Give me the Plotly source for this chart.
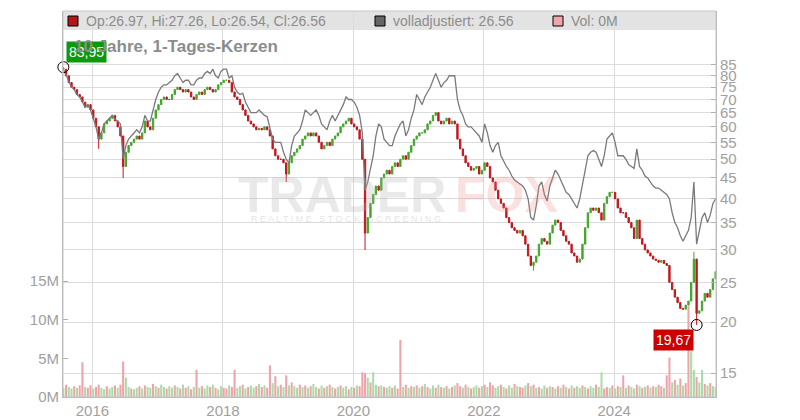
import numpy as np
import pandas as pd
import plotly.graph_objects as go

# ---------------- data ----------------
first_open = 83.5
closes = [
    83, 80, 77, 75, 74, 72, 71, 69, 67, 68,
    66, 63, 60, 56, 58, 61, 62, 63, 64, 62,
    60, 57, 48, 52, 54, 55, 56, 57, 56, 58,
    62, 60, 59, 63, 66, 68, 70, 71, 70, 70,
    72, 74, 75, 74, 73, 74, 73, 71, 70, 72,
    73, 72, 74, 75, 74, 73, 74, 76, 77, 78,
    78, 77, 73, 71, 70, 68, 66, 64, 62, 61,
    60, 59, 59.5, 59, 60, 59, 57, 53, 51, 50,
    50, 49, 46, 49, 51, 52, 53, 54, 56, 57,
    58, 57, 58, 57, 55, 53, 54, 55, 54, 56,
    57, 58, 60, 61, 62, 63, 61, 60, 59, 56,
    50, 33, 36, 39, 41, 43, 42, 45, 46, 47,
    46, 48, 49, 48, 50, 51, 50, 52, 54, 56,
    57, 58, 58, 59, 61, 62, 64, 65, 62, 61,
    62, 63, 61, 62, 61, 56, 53, 51, 49, 48,
    47, 47.5, 48, 46, 47, 49, 48, 45, 44, 42,
    40, 39, 38, 36, 35, 34, 33.5, 33, 33.5, 32.5,
    31, 29, 27.5, 28, 29, 31, 32, 31.5, 31, 33,
    34.5, 35.5, 35, 33.5, 32.5, 31.5, 31, 29.5, 29, 28,
    28.5, 31, 34, 37, 38, 37.5, 38, 37, 35.5, 39,
    40.5, 41.5, 41.5, 40, 38, 37, 37, 36, 35, 34,
    32, 35.5, 32, 31, 30, 29.5, 29, 28.5, 28.3, 28,
    28.3, 27.8, 27.5, 25, 24, 23, 22.3, 21.6, 21.5, 22,
    22.5, 25, 28.5, 21, 21.3, 22.5, 23.5, 23, 24, 25.5,
    26.56,
]

adjusted = [
    83, 80, 77, 75, 74, 72, 71, 69, 67, 68,
    66, 63, 60, 56, 58, 61, 62, 63, 64, 62.5,
    62, 61, 50, 54, 56, 57, 58, 59, 58, 60,
    64, 62, 62, 66, 70, 73, 75, 76, 76, 77,
    78, 80, 81, 79, 77, 78, 78, 76, 76, 78,
    79, 79, 81, 82, 81, 83, 80, 79, 82, 83,
    83, 79, 80, 75, 73, 72, 72.5, 69, 67, 65,
    65, 65, 66, 65, 64, 63.5, 60, 56, 55, 55,
    55, 52, 50, 49, 54, 57, 58, 59, 62, 66,
    65, 64, 65, 66, 64, 61, 60, 59, 62, 64,
    62, 64, 66, 68, 71, 70, 70, 69, 67, 64,
    58, 42, 44, 47, 51, 57, 61, 60, 56, 55,
    54, 54, 57, 59, 61, 62, 57, 59, 63, 66,
    72, 70, 68, 71, 73, 75, 78, 81, 78, 75,
    77, 78, 80, 80, 80, 70, 66, 64, 61, 60,
    60, 59, 58, 57, 55, 61, 58, 54, 52, 54,
    55, 51, 49.5, 48, 47, 45.5, 44.5, 44, 43.5, 43,
    42, 40, 36, 35.5, 38.5, 43, 44, 41, 39.5, 43,
    45, 47, 46, 44.5, 43, 41.5, 41, 40, 39, 38,
    40, 43, 47, 51, 52, 52.5, 52, 50, 48, 51,
    56, 57, 58, 55, 51, 51, 51, 50, 48.5, 48,
    47.5, 53, 48, 47, 45.5, 45, 44, 43, 42.5, 42.5,
    42, 41.5, 41, 40, 37, 35, 34, 32.5, 31.5, 32.5,
    33.5, 36, 44, 31, 33.5, 36, 37, 35, 36.5, 39,
    40,
]

volume_m = [
    1.2, 1.6, 1.3, 1.1, 1.4, 1.2, 1.5, 4.5, 1.3, 1.2,
    1.5, 1.1, 1.3, 1.6, 1.2, 1.0, 1.4, 1.1, 1.3, 1.5,
    1.2, 1.6, 4.6, 2.5, 1.3, 1.1, 1.0, 1.2, 1.4, 1.1,
    1.5, 1.3, 1.2, 1.7, 1.4, 1.2, 1.6, 1.3, 1.1, 1.4,
    1.2, 1.5, 1.3, 1.1, 1.6, 1.2, 1.4, 1.0, 1.3, 3.5,
    1.2, 1.4, 1.1, 1.5, 1.3, 1.6, 1.2, 1.0, 1.4, 1.2,
    1.1, 1.5, 1.3, 3.5, 1.2, 1.4, 1.6, 1.1, 1.3, 1.5,
    1.2, 1.4, 1.7, 1.3, 1.5, 1.2, 4.1, 1.8, 2.7, 1.4,
    1.6, 1.3, 2.8, 1.5, 1.9, 1.4, 1.2, 1.6, 1.3, 1.5,
    1.2, 1.4, 1.7, 1.3, 1.1, 1.5, 1.2, 1.4, 1.6, 1.3,
    1.1, 1.3, 1.5, 1.2, 1.4, 1.0, 1.3, 1.2, 1.5, 1.4,
    3.2, 3.1, 2.5, 1.9, 3.2, 1.6, 1.4, 1.5, 1.3, 1.2,
    1.4, 1.2, 1.5, 1.1, 7.4, 1.3, 1.6, 1.2, 1.4, 1.3,
    1.5, 1.2, 1.4, 1.7, 1.3, 1.1, 1.5, 1.2, 1.6, 1.3,
    1.2, 1.4, 1.1, 1.3, 1.5, 1.8, 1.4, 1.2, 1.6, 1.3,
    1.1, 1.3, 1.5, 1.2, 1.4, 1.6, 1.3, 1.9, 1.5, 1.2,
    1.4, 1.6, 1.3, 1.1, 1.5, 1.2, 1.7, 1.4, 1.3, 1.2,
    1.5, 1.8, 1.4, 1.6, 1.2, 1.3, 1.1, 1.5, 1.2, 1.4,
    1.3, 1.1, 1.4, 1.2, 1.6, 1.3, 1.1, 1.5, 1.2, 1.4,
    1.2, 1.5, 1.3, 1.1, 1.4, 1.2, 1.6, 1.3, 3.2, 1.1,
    1.3, 1.2, 1.5, 1.1, 1.4, 1.3, 2.8, 1.2, 1.5, 1.3,
    1.1, 1.6, 1.4, 1.2, 1.3, 1.5, 1.2, 1.4, 1.3, 1.6,
    1.4, 1.2, 2.8, 5.1, 1.9, 2.2, 1.6, 2.4, 1.5, 1.8,
    11.8, 5.9, 3.5, 2.6, 1.9, 3.5, 1.7, 1.5, 1.8, 1.4,
    1.3,
]

# volume bar direction: g = up day (green), r = down day (pink)
volume_dir = (
    "grggrgrrgr" "rgrrggrggr" "grrggrggrg" "rggrgrggrg" "grgrgrgrgr"
    "grggrgrggr" "rgrrggrgrg" "grgrgrrgrg" "rgrgrggrgr" "grggrgrgrg"
    "rgrggrgrgr" "rrgrggrgrg" "grgrrgrgrg" "rgrgrggrgr" "grgrgrrgrg"
    "rggrgrgrrg" "grgrggrgrr" "grgrgrggrg" "rgrgrgrgrg" "grgrggrggr"
    "rgrgrgrgrg" "grgrgrgrgr" "rgrrgrgrgr" "rggrggrgrg" "g"
)

# notable wick extremes (date, high, low)
wick_dates = ["2015-07-22", "2016-02-11", "2016-06-27", "2018-12-24",
              "2020-03-12", "2022-10-12", "2025-03-20", "2025-04-08"]
wick_highs = [83.95, None, None, None, None, None, 29.7, None]
wick_lows = [None, 53, 45, 44, 30, 26.7, None, 19.67]

price_ticks = [15, 20, 25, 30, 35, 40, 45, 50, 55, 60, 65, 70, 75, 80, 85]
vol_ticks_m = [0, 5, 10, 15]

legend_texts = ["Op:26.97, Hi:27.26, Lo:26.54, Cl:26.56", "volladjustiert: 26.56", "Vol: 0M"]
title_text = "10 Jahre, 1-Tages-Kerzen"

# ---------------- build ----------------
n = len(closes)
dates = pd.date_range("2015-07-22", "2025-07-22", periods=n)
opens = [first_open] + closes[:-1]
highs = [max(o, c) for o, c in zip(opens, closes)]
lows = [min(o, c) for o, c in zip(opens, closes)]
for d, h, l in zip(wick_dates, wick_highs, wick_lows):
    i = int(np.argmin(np.abs((dates - pd.Timestamp(d)).total_seconds())))
    if h is not None:
        highs[i] = max(highs[i], h)
    if l is not None:
        lows[i] = min(lows[i], l)

GREEN = "#45a52c"
RED = "#c3161c"
VGREEN = "#a9dca6"
VPINK = "#f1a2aa"
vol_colors = [VGREEN if ch == "g" else VPINK for ch in volume_dir]

fig = go.Figure()

fig.add_trace(go.Bar(
    x=dates, y=[v * 1e6 for v in volume_m], marker_color=vol_colors,
    marker_line_width=0, width=1.0e9, yaxis="y", hoverinfo="skip", showlegend=False,
))

fig.add_trace(go.Scatter(
    x=dates, y=adjusted, mode="lines", line=dict(color="#7a7a7a", width=1.3),
    yaxis="y2", hoverinfo="skip", showlegend=False,
))

fig.add_trace(go.Candlestick(
    x=dates, open=opens, high=highs, low=lows, close=closes, yaxis="y2",
    increasing=dict(line=dict(color=GREEN, width=1), fillcolor=GREEN),
    decreasing=dict(line=dict(color=RED, width=1), fillcolor=RED),
    whiskerwidth=0, hoverinfo="skip", showlegend=False,
))

imax = int(np.argmax(highs))
imin = int(np.argmin(lows))
fig.add_trace(go.Scatter(
    x=[dates[imax], dates[imin]], y=[highs[imax], lows[imin]], mode="markers",
    marker=dict(symbol="circle-open", size=11, color="black", line=dict(width=1)),
    yaxis="y2", hoverinfo="skip", showlegend=False, cliponaxis=False,
))

def de(v):
    return f"{v:.2f}".replace(".", ",")

FONT = "Liberation Sans, Arial, sans-serif"
annotations = [
    dict(x=dates[imax], y=np.log10(highs[imax]), xref="x", yref="y2", text=de(highs[imax]),
         showarrow=False, xanchor="left", yanchor="bottom", xshift=3, yshift=4,
         bgcolor="#0a9a0a", font=dict(color="white", size=14, family=FONT), borderpad=2),
    dict(x=dates[imin], y=np.log10(lows[imin]), xref="x", yref="y2", text=de(lows[imin]),
         showarrow=False, xanchor="right", yanchor="top", xshift=-3, yshift=-4,
         bgcolor="#cc0000", font=dict(color="white", size=14, family=FONT), borderpad=2),
    dict(x=0.0138, y=0.907, xref="paper", yref="paper", text=f"<b>{title_text}</b>",
         showarrow=False, xanchor="left", yanchor="middle",
         font=dict(color="#8c8c8c", size=17, family=FONT)),
    # watermark
    dict(x=0.265, y=0.523, xref="paper", yref="paper", text="<b>TRADER</b>", showarrow=False,
         xanchor="left", yanchor="middle", font=dict(color="rgba(175,175,175,0.28)", size=50, family=FONT)),
    dict(x=0.597, y=0.523, xref="paper", yref="paper", text="<b>FOX</b>", showarrow=False,
         xanchor="left", yanchor="middle", font=dict(color="rgba(240,130,130,0.25)", size=50, family=FONT)),
    dict(x=0.285, y=0.462, xref="paper", yref="paper", text="R E A L T I M E   S T O C K   S C R E E N I N G",
         showarrow=False, xanchor="left", yanchor="middle",
         font=dict(color="rgba(175,175,175,0.35)", size=9, family=FONT)),
]

PH = 386.0
PW = 653.0
def py(pix):
    return 1 - (pix - 11) / PH
def px(pix):
    return (pix - 63) / PW

shapes = [
    dict(type="rect", xref="paper", yref="paper", x0=0, x1=1, y0=py(30), y1=1,
         fillcolor="#e3e3e3", line=dict(width=0), layer="below"),
    dict(type="rect", xref="paper", yref="paper", x0=0, x1=1, y0=0, y1=1,
         fillcolor="rgba(0,0,0,0)", line=dict(color="#c8c8c8", width=1), layer="above"),
]
sq = [(68, "#b4141b"), (375, "#666666"), (553, "#f1a6ae")]
txt_x = [84, 391, 569]
for (sx, col), tx, t in zip(sq, txt_x, legend_texts):
    shapes.append(dict(type="rect", xref="paper", yref="paper", x0=px(sx), x1=px(sx + 10),
                       y0=py(26), y1=py(16), fillcolor=col, line=dict(color="black", width=1),
                       layer="above"))
    annotations.append(dict(x=px(tx), y=py(21), xref="paper", yref="paper", text=t,
                            showarrow=False, xanchor="left", yanchor="middle",
                            font=dict(color="#8c8c8c", size=14, family=FONT)))

# the page body adds an 8px offset, so the figure is 792x412 with margins reduced by 8
fig.update_layout(
    width=792, height=412,
    margin=dict(l=55, r=84, t=3, b=23, autoexpand=False),
    paper_bgcolor="white", plot_bgcolor="white",
    showlegend=False, hovermode=False,
    font=dict(family=FONT, color="#999999"),
    xaxis=dict(
        type="date", range=[dates[0] - pd.Timedelta(days=2), dates[-1] + pd.Timedelta(days=2)],
        tick0="2016-01-01", dtick="M24", tickformat="%Y",
        showgrid=True, gridcolor="#dcdcdc", gridwidth=1,
        showline=True, linecolor="#b0b0b0", ticks="",
        tickfont=dict(size=15, color="#a0a0a0"),
        rangeslider=dict(visible=False), zeroline=False, automargin=False,
    ),
    yaxis=dict(
        range=[0, 50e6], side="left",
        tickvals=[v * 1e6 for v in vol_ticks_m], ticktext=[f"{v}M" for v in vol_ticks_m],
        showgrid=False, zeroline=False, showline=True, linecolor="#b0b0b0",
        ticks="inside", ticklen=5, tickcolor="#b0b0b0",
        tickfont=dict(size=15, color="#a0a0a0"), automargin=False,
    ),
    yaxis2=dict(
        overlaying="y", side="right", type="log",
        range=[1.11766, 2.06142],
        tickvals=price_ticks, ticktext=[str(v) for v in price_ticks],
        showgrid=True, gridcolor="#dcdcdc", gridwidth=1, zeroline=False,
        showline=True, linecolor="#b0b0b0",
        ticks="inside", ticklen=5, tickcolor="#b0b0b0",
        tickfont=dict(size=15, color="#a0a0a0"), automargin=False,
    ),
    annotations=annotations,
    shapes=shapes,
)

fig.write_html("out.html")
